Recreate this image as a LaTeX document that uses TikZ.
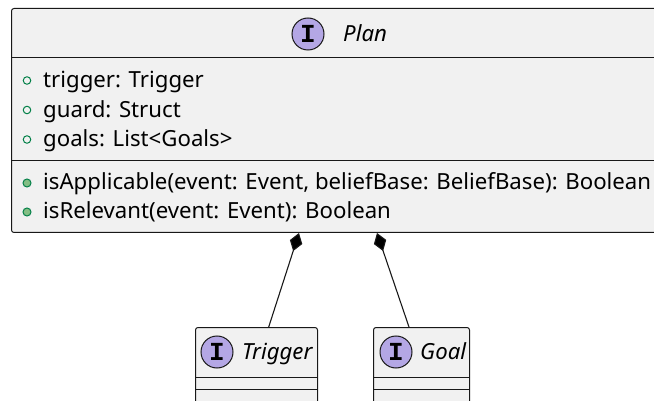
\documentclass[tikz,border=0pt]{standalone}
\usepackage{fontspec}
\setmainfont{Noto Sans}
\newfontfamily\iconfont{Liberation Mono}
\usetikzlibrary{arrows.meta,calc}

\definecolor{boxfill}{HTML}{F1F1F1}
\definecolor{boxline}{HTML}{181818}
\definecolor{ifacefill}{HTML}{B4A7E5}
\definecolor{visline}{HTML}{038048}
\definecolor{visfill}{HTML}{84BE84}

\tikzset{
  umlbox/.style={draw=boxline, fill=boxfill, line width=1pt, rounded corners=2.5pt, inner sep=0pt},
  divider/.style={draw=boxline, line width=0.9pt},
  member/.style={anchor=base west, inner sep=0pt, font=\fontsize{22.2}{26}\selectfont, text=black},
  title/.style={anchor=base west, inner sep=0pt, font=\fontsize{22.2}{26}\selectfont\itshape, text=black},
  ibadge/.style={circle, draw=boxline, fill=ifacefill, line width=1pt, minimum size=32pt, inner sep=0pt},
  iletter/.style={inner sep=0pt, font=\fontsize{26}{26}\selectfont\iconfont\bfseries},
  pubfield/.style={circle, draw=visline, line width=1pt, minimum size=7.5pt, inner sep=0pt},
  pubmethod/.style={circle, draw=visline, fill=visfill, line width=1pt, minimum size=8pt, inner sep=0pt},
  comp/.style={draw=boxline, line width=1.1pt, {Diamond[length=19pt,width=13pt,fill=black]}-}
}

\begin{document}
\begin{tikzpicture}[x=1pt,y=-1pt]
\useasboundingbox (0,0) rectangle (654,401);

% Plan interface
\node[umlbox, anchor=north west, minimum width=660pt, minimum height=224pt] (plan) at (11,8) {};
\draw[divider] ($(plan.north west)+(0,49)$) -- ($(plan.north east)+(0,49)$);
\draw[divider] ($(plan.north west)+(0,152)$) -- ($(plan.north east)+(0,152)$);
\node[ibadge] (planicon) at (308,34) {};
\node[iletter] (planI) at (planicon.center) {I};
\node[title] (plantitle) at (343,41.5) {Plan};

\node[pubfield] (f1) at (27,80.5) {};
\node[member] (t1) at (43,87.7) {trigger: Trigger};
\node[pubfield] (f2) at (27,110) {};
\node[member] (t2) at (43,117.2) {guard: Struct};
\node[pubfield] (f3) at (27,139.5) {};
\node[member] (t3) at (43,146.7) {goals: List<Goals>};
\node[pubmethod] (m1) at (27,183) {};
\node[member] (t4) at (43,189.5) {isApplicable(event: Event, beliefBase: BeliefBase): Boolean};
\node[pubmethod] (m2) at (27,212) {};
\node[member] (t5) at (43,218.5) {isRelevant(event: Event): Boolean};

% Trigger interface
\node[umlbox, anchor=north west, minimum width=122pt, minimum height=90pt] (trigger) at (195,327) {};
\draw[divider] ($(trigger.north west)+(0,50)$) -- ($(trigger.north east)+(0,50)$);
\draw[divider] ($(trigger.north west)+(0,62.5)$) -- ($(trigger.north east)+(0,62.5)$);
\node[ibadge] (trigicon) at (217,352) {};
\node[iletter] (trigI) at (trigicon.center) {I};
\node[title] (trigtitle) at (242,359.5) {Trigger};

% Goal interface
\node[umlbox, anchor=north west, minimum width=96pt, minimum height=90pt] (goal) at (373,327) {};
\draw[divider] ($(goal.north west)+(0,50)$) -- ($(goal.north east)+(0,50)$);
\draw[divider] ($(goal.north west)+(0,62.5)$) -- ($(goal.north east)+(0,62.5)$);
\node[ibadge] (goalicon) at (396,352) {};
\node[iletter] (goalI) at (goalicon.center) {I};
\node[title] (goaltitle) at (420,359.5) {Goal};

% Composition connectors
\coordinate (plantrig) at (299,233);
\coordinate (plangoal) at (377,233);
\draw[comp] (plantrig) -- ($(trigger.north west)+(73.7,0)$);
\draw[comp] (plangoal) -- ($(goal.north west)+(36,0)$);
\end{tikzpicture}
\end{document}
